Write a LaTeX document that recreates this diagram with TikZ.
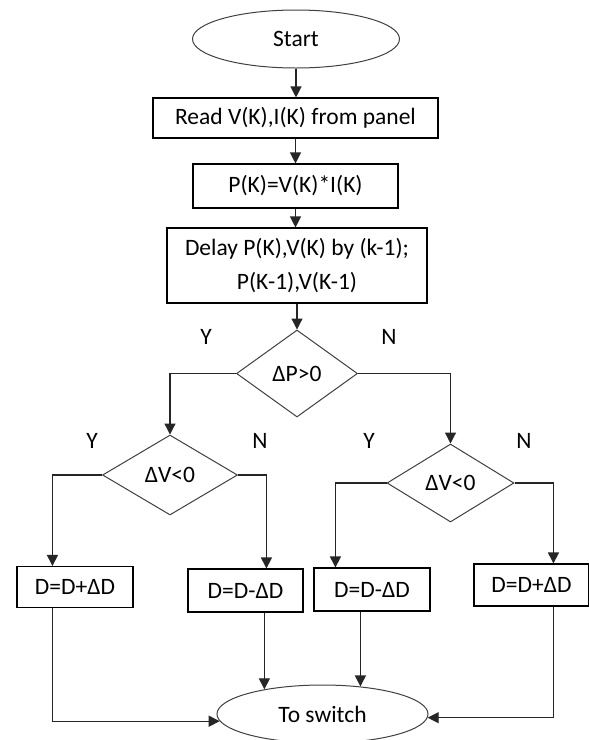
\documentclass[tikz,border=0pt]{standalone}
\usepackage{fontspec}
\setmainfont{Carlito}
\usetikzlibrary{shapes.geometric,arrows.meta}
\begin{document}
\begin{tikzpicture}[x=1pt,y=-1pt,
  every node/.style={font=\fontsize{23.5}{28}\selectfont, inner sep=0pt},
  term/.style={ellipse, draw=black!75, line width=1pt},
  proc/.style={rectangle, draw=black, line width=1.1pt},
  decide/.style={diamond, draw=black!75, line width=1pt},
  arr/.style={draw=black!85, line width=1.2pt, -{Triangle[length=11pt,width=11pt]}},
  lnk/.style={draw=black!85, line width=1.2pt}]
\useasboundingbox (0,0) rectangle (589,740);
\fill[white] (0,0) rectangle (589,740);

\node[term, minimum width=207pt, minimum height=58pt] (start) at (296,39) {Start};
\node[proc, minimum width=285pt, minimum height=40pt] (read) at (295.5,118) {Read V(K),I(K) from panel\hspace{10pt}};
\node[proc, minimum width=205pt, minimum height=44pt] (pk) at (295.5,186) {P(K)=V(K)*I(K)};
\node[proc, minimum width=260pt, minimum height=75pt, align=center, font=\fontsize{23.5}{34}\selectfont] (delay) at (297,265.5) {Delay P(K),V(K) by (k-1);\\P(K-1),V(K-1)};
\node[decide, minimum width=121pt, minimum height=87pt] (dp) at (297,373.5) {ΔP>0};
\node[decide, minimum width=135pt, minimum height=80pt] (dvl) at (170,475) {ΔV<0};
\node[decide, minimum width=127pt, minimum height=78pt] (dvr) at (450.5,483) {ΔV<0};
\node[proc, minimum width=116pt, minimum height=41pt] (b1) at (75,587) {D=D+ΔD\hspace{12pt}};
\node[proc, minimum width=115pt, minimum height=43pt] (b2) at (245.5,590.5) {D=D-ΔD\hspace{12pt}};
\node[proc, minimum width=116pt, minimum height=43pt] (b3) at (372,589.5) {D=D-ΔD\hspace{12pt}};
\node[proc, minimum width=115pt, minimum height=42pt] (b4) at (531.5,585) {D=D+ΔD\hspace{8pt}};
\node[term, minimum width=211pt, minimum height=58pt] (sw) at (322.5,714) {To switch};

\node (ya) at (206,337) {Y};
\node (na) at (389,337) {N};
\node (yb) at (92,441) {Y};
\node (nb) at (260,441) {N};
\node (yc) at (369,441) {Y};
\node (nc) at (524,441) {N};

\draw[arr] (start.south) -- (start.south |- read.north);
\draw[arr] (read.south -| pk.north) -- (pk.north);
\draw[arr] (pk.south) -- (pk.south |- delay.north);
\draw[arr] (delay.south -| dp.north) -- (dp.north);
\draw[arr] (dp.west) -| (dvl.north);
\draw[arr] (dp.east) -| (dvr.north);
\draw[arr] (dvl.west) -| ([xshift=36pt]b1.north west);
\draw[arr] (dvl.east) -| ([xshift=79pt]b2.north west);
\draw[arr] (dvr.west) -| ([xshift=22pt]b3.north west);
\draw[arr] (dvr.east) -| ([xshift=80pt]b4.north west);
\draw[arr] ([xshift=36pt]b1.south west) |- (sw.184.5);
\draw[arr] (sw.157 |- b2.south) -- (sw.157);
\draw[arr] (sw.36 |- b3.south) -- (sw.36);
\draw[arr] ([xshift=80pt]b4.south west) |- (sw.358.3);
\end{tikzpicture}
\end{document}
